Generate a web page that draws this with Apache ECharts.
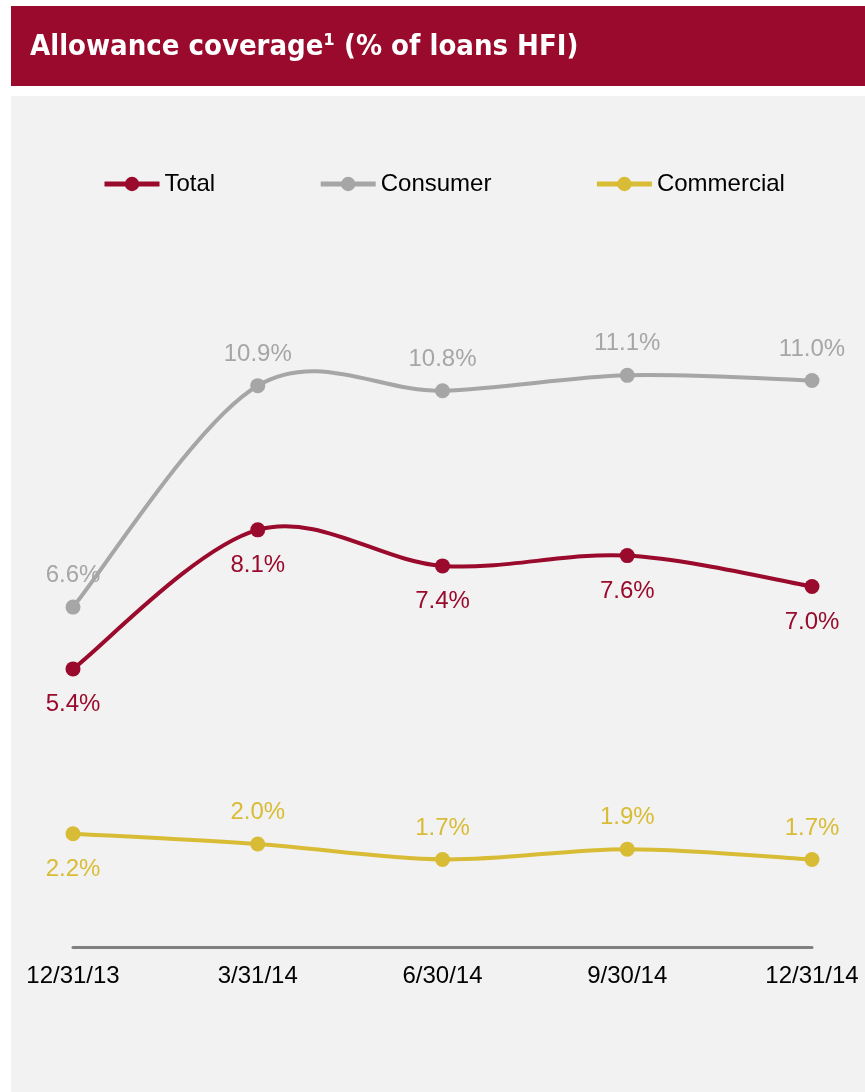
<!DOCTYPE html>
<html>
<head>
<meta charset="utf-8">
<script src="https://cdn.jsdelivr.net/npm/echarts@6/dist/echarts.min.js"></script>
<style>
  html, body { margin: 0; padding: 0; background: #ffffff; }
  #chart { width: 865px; height: 1092px; }
</style>
</head>
<body>
<div id="chart"></div>
<script>
// Quarter-end dates on the category axis
const quarters = ['12/31/13', '3/31/14', '6/30/14', '9/30/14', '12/31/14'];

// Allowance coverage, % of loans held for investment
const totalValues = [5.4, 8.1, 7.4, 7.6, 7.0];
const consumerValues = [6.6, 10.9, 10.8, 11.1, 11.0];
const commercialValues = [2.2, 2.0, 1.7, 1.9, 1.7];

// Where each data label sits relative to its point
const totalLabelPos = ['bottom', 'bottom', 'bottom', 'bottom', 'bottom'];
const consumerLabelPos = ['top', 'top', 'top', 'top', 'top'];
const commercialLabelPos = ['bottom', 'top', 'top', 'top', 'top'];

const RED = '#990A2C';
const GREY = '#A6A6A6';
const GOLD = '#D9BC35';
const LABEL_FONT = 'Liberation Sans, Arial, sans-serif';

const chart = echarts.init(document.getElementById('chart'), null, { renderer: 'canvas' });

// Smooth curve through the points (cardinal spline, control arms = 1/6 of neighbour span)
function curveSeries(values, color) {
  return {
    type: 'custom',
    silent: true,
    z: 2,
    data: [0],
    renderItem: function (params, api) {
      const pts = values.map((v, i) => api.coord([i, v]));
      let d = 'M' + pts[0][0] + ' ' + pts[0][1];
      for (let i = 0; i < pts.length - 1; i++) {
        const p0 = pts[Math.max(i - 1, 0)];
        const p1 = pts[i];
        const p2 = pts[i + 1];
        const p3 = pts[Math.min(i + 2, pts.length - 1)];
        const c1x = p1[0] + (p2[0] - p0[0]) / 6;
        const c1y = p1[1] + (p2[1] - p0[1]) / 6;
        const c2x = p2[0] - (p3[0] - p1[0]) / 6;
        const c2y = p2[1] - (p3[1] - p1[1]) / 6;
        d += ' C' + c1x + ' ' + c1y + ' ' + c2x + ' ' + c2y + ' ' + p2[0] + ' ' + p2[1];
      }
      return {
        type: 'path',
        shape: { pathData: d },
        style: { fill: null, stroke: color, lineWidth: 4, lineCap: 'round', lineJoin: 'round' }
      };
    }
  };
}

// Markers and value labels for one series
function pointSeries(name, values, color, labelPos) {
  return {
    name: name,
    type: 'line',
    symbol: 'circle',
    symbolSize: 15,
    lineStyle: { color: color, width: 4, opacity: 0 },
    itemStyle: { color: color },
    data: values.map((v, i) => ({
      value: v,
      label: { position: labelPos[i], distance: labelPos[i] === 'bottom' ? 16 : 12 }
    })),
    label: {
      show: true,
      color: color,
      fontFamily: LABEL_FONT,
      fontSize: 24,
      formatter: p => p.value.toFixed(1) + '%'
    },
    emphasis: { disabled: true },
    z: 3
  };
}

function legendItem(name, color) {
  return {
    name: name,
    itemStyle: { color: color },
    lineStyle: { color: color, width: 5, opacity: 1 }
  };
}

chart.setOption({
  animation: false,
  backgroundColor: '#ffffff',
  graphic: [
    { type: 'rect', left: 11, top: 6, shape: { width: 854, height: 80 }, style: { fill: RED }, z: -10 },
    { type: 'rect', left: 11, top: 96, shape: { width: 854, height: 996 }, style: { fill: '#F2F2F2' }, z: -10 },
    {
      type: 'text', left: 30, top: 33, z: 10,
      style: {
        text: 'Allowance coverage¹ (% of loans HFI)',
        fill: '#ffffff',
        fontFamily: 'DejaVu Sans Condensed, DejaVu Sans, sans-serif',
        fontWeight: 'bold',
        fontSize: 29
      }
    }
  ],
  legend: {
    left: 97,
    top: 167,
    itemWidth: 55,
    itemHeight: 18,
    itemGap: 103,
    textStyle: { color: '#000000', fontSize: 24, fontFamily: LABEL_FONT },
    data: [legendItem('Total', RED), legendItem('Consumer', GREY), legendItem('Commercial', GOLD)]
  },
  grid: { left: 73, right: 53, top: 226, bottom: 145, containLabel: false },
  xAxis: {
    type: 'category',
    boundaryGap: false,
    data: quarters,
    axisLine: { lineStyle: { color: '#808080', width: 3 } },
    axisTick: { show: false },
    axisLabel: {
      color: '#000000',
      fontSize: 24,
      fontFamily: LABEL_FONT,
      margin: 17
    },
    splitLine: { show: false }
  },
  yAxis: {
    type: 'value',
    min: 0,
    max: 14,
    show: false,
    splitLine: { show: false }
  },
  series: [
    curveSeries(totalValues, RED),
    curveSeries(consumerValues, GREY),
    curveSeries(commercialValues, GOLD),
    pointSeries('Total', totalValues, RED, totalLabelPos),
    pointSeries('Consumer', consumerValues, GREY, consumerLabelPos),
    pointSeries('Commercial', commercialValues, GOLD, commercialLabelPos)
  ]
});
</script>
</body>
</html>
